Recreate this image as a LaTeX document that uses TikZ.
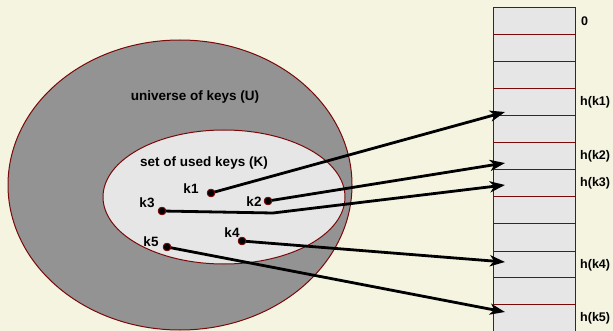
\documentclass[tikz,border=0pt]{standalone}
\usepackage{fontspec}
\setmainfont{Liberation Sans}
\usetikzlibrary{arrows.meta}
\definecolor{bg}{HTML}{F5F4E1}
\definecolor{outerfill}{HTML}{939393}
\definecolor{innerfill}{HTML}{E6E6E6}
\definecolor{border}{HTML}{7A0A0A}
\tikzset{
  lbl/.style={font=\bfseries\fontsize{13.5}{15}\selectfont, inner sep=0pt},
  hlbl/.style={font=\bfseries\fontsize{12.5}{14}\selectfont, inner sep=0pt, anchor=west},
  keydot/.style={circle, fill=black, draw=border, line width=0.8pt, minimum size=7.5pt, inner sep=0pt},
  cell/.style={fill=innerfill, minimum width=82pt, inner sep=0pt, outer sep=0pt, anchor=north west},
  rule/.style={draw=border, line width=1.1pt},
  link/.style={line width=2.8pt, -{Stealth[length=15pt, width=11pt, inset=4pt]}},
}
\begin{document}
\begin{tikzpicture}[x=1pt, y=-1pt]
\fill[bg] (0,0) rectangle (613,331);
\useasboundingbox (0,0) rectangle (613,331);
% sets
\draw[border, fill=outerfill, line width=1pt] (180,185) ellipse [x radius=172, y radius=145];
\draw[border, fill=innerfill, line width=1pt] (224,197) ellipse [x radius=121, y radius=67];
\node[lbl] (U) at (195,97) {universe of keys (U)};
\node[lbl] (K) at (204,163) {set of used keys (K)};
% table
\foreach \t/\b [count=\i from 0] in {7.5/34.5, 34.5/61.5, 61.5/88.5, 88.5/115.5, 115.5/142.5, 142.5/169.5, 169.5/196.5, 196.5/223.5, 223.5/251.5, 251.5/277.5, 277.5/304.5, 304.5/340} {
  \node[cell, minimum height={(\b-\t)*1pt}] (c\i) at (493.5, \t) {};
}
\foreach \i in {0,...,11} {
  \draw[rule] (c\i.north west) -- (c\i.north east);
}
\draw[rule] (c0.north west) -- (c11.south west);
\draw[rule] (c0.north east) -- (c11.south east);
\node[hlbl] (l0) at (581,21) {0};
\node[hlbl] (l1) at (580,102) {h(k1)};
\node[hlbl] (l2) at (580,156) {h(k2)};
\node[hlbl] (l3) at (580,183) {h(k3)};
\node[hlbl] (l4) at (580,265) {h(k4)};
\node[hlbl] (l5) at (580,318) {h(k5)};
% keys
\node[keydot] (k1) at (211,193) {};
\node[keydot] (k2) at (268,201) {};
\node[keydot] (k3) at (162,211) {};
\node[keydot] (k4) at (242,241) {};
\node[keydot] (k5) at (167,247) {};
\node[lbl] (t1) at (191,189) {k1};
\node[lbl] (t2) at (254,202) {k2};
\node[lbl] (t3) at (147,203) {k3};
\node[lbl] (t4) at (232,233) {k4};
\node[lbl] (t5) at (151,242) {k5};
% arrow ends
\coordinate (e1) at (505,112);
\coordinate (e2) at (505,163);
\coordinate (e3) at (505,185);
\coordinate (e4) at (505,262);
\coordinate (e5) at (505,312);
\coordinate (b3) at (273,213);
\draw[link] (k1.center) -- (e1);
\draw[link] (k2.center) -- (e2);
\draw[link] (k3.center) -- (b3) -- (e3);
\draw[link] (k4.center) -- (e4);
\draw[link] (k5.center) -- (e5);
\node[keydot] at (k1) {};
\node[keydot] at (k2) {};
\node[keydot] at (k3) {};
\node[keydot] at (k4) {};
\node[keydot] at (k5) {};
\end{tikzpicture}
\end{document}
